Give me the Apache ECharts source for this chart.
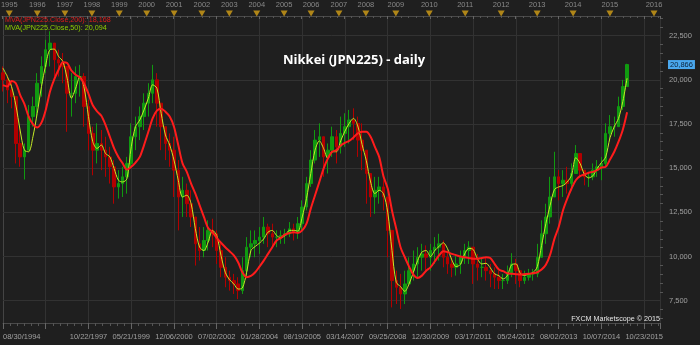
<!DOCTYPE html>
<html><head><meta charset="utf-8">
<script src="https://cdn.jsdelivr.net/npm/echarts@6/dist/echarts.min.js"></script>
<style>html,body{margin:0;padding:0;background:#1f1f1f;}#c{width:700px;height:345px;}</style>
</head><body><div id="c"></div>
<script>
// bottom axis date labels (one per grid line, every 10 slots)
const dateLabels = ['08/30/1994', '', '10/22/1997', '05/21/1999', '12/06/2000', '07/02/2002', '01/28/2004',
  '08/19/2005', '03/14/2007', '09/25/2008', '12/30/2009', '03/17/2011', '05/24/2012', '08/02/2013',
  '10/07/2014', '10/23/2015'];
// top ruler year markers (slot position of each year start)
const yearLabels = ['1995','1996','1997','1998','1999','2000','2001','2002','2003','2004','2005',
  '2006','2007','2008','2009','2010','2011','2012','2013','2014','2015','2016'];
const yearSlots = [1.7, 8.25, 14.7, 21.0, 27.4, 33.8, 40.2, 46.7, 53.1, 59.5, 65.9,
  72.2, 78.7, 85.0, 92.0, 99.8, 108.2, 116.6, 125.0, 133.4, 142.0, 152.3];
const yTickValues = [7500, 10000, 12500, 15000, 17500, 20000, 22500];
const yMinorValues = [6500, 7000, 8000, 8500, 9000, 9500, 10500, 11000, 11500, 12000, 13000, 13500,
  14000, 14500, 15500, 16000, 16500, 17000, 18000, 18500, 19000, 19500, 20500, 21000, 21500, 22000,
  23000, 23500];

const firstOpen = 20400;
const high = [
  20760, 20290, 19910, 19050, 17350, 16400, 18580, 19050, 20380, 21330,
  22270, 22750, 22080, 21710, 21520, 20760, 20380, 20760, 20850, 20380,
  18860, 17350, 17540, 17160, 16780, 16210, 15460, 14890, 15080, 15640,
  17540, 17920, 18490, 19240, 19810, 20850, 20380, 18680, 17350, 16970,
  16780, 15460, 14510, 14130, 13750, 12240, 11670, 11670, 12050, 12140,
  11480, 10720, 9960, 9200, 9020, 8830, 9960, 11100, 11480, 11480,
  11670, 12240, 11860, 11860, 11480, 11480, 11570, 11950, 11860, 12240,
  13180, 14510, 16020, 17160, 17540, 16780, 16400, 17350, 17160, 17920,
  18110, 18300, 18390, 17920, 17540, 16020, 14700, 14510, 14510, 14320,
  13370, 11480, 9200, 9020, 9200, 9960, 10340, 10530, 10720, 10630,
  10720, 11100, 11290, 10910, 10340, 9960, 10060, 10340, 10720, 10870,
  10340, 10150, 9960, 9960, 9580, 9390, 9200, 9010, 9490, 10190,
  9870, 9200, 9200, 9300, 9300, 10720, 12050, 12990, 14510, 15930,
  14890, 14890, 15080, 15270, 16310, 15640, 14890, 14790, 15270, 15460,
  15640, 17540, 18010, 17920, 19050, 20000, 20910];
const low = [
  19340, 18680, 18390, 15270, 15080, 14360, 16020, 17350, 17920, 19050,
  20380, 20760, 20190, 20190, 19810, 17060, 17920, 18680, 19050, 17350,
  16020, 14600, 15270, 14890, 14510, 14130, 12990, 13280, 13370, 13560,
  15080, 16020, 16590, 17160, 17920, 18680, 17350, 16020, 15460, 15080,
  13370, 11480, 12240, 12240, 11670, 9490, 9770, 9960, 10340, 10530,
  9580, 8830, 8260, 8070, 7880, 7590, 7880, 8830, 9960, 9960,
  10150, 10720, 10530, 10530, 10530, 10720, 10720, 11100, 10910, 11000,
  11480, 12610, 13940, 15270, 15640, 14510, 14700, 15640, 15270, 15830,
  16210, 16400, 16590, 15640, 14890, 12990, 12240, 12420, 12990, 12610,
  9960, 7120, 7310, 7030, 7310, 8450, 8640, 8830, 9200, 9200,
  9200, 9580, 9770, 9390, 9020, 8830, 8920, 9020, 9580, 9580,
  8450, 8640, 8830, 8640, 8260, 8160, 8160, 8160, 8450, 8830,
  8450, 8260, 8450, 8640, 8640, 8830, 9960, 10720, 11860, 13370,
  13180, 13370, 13560, 13750, 15080, 14510, 14030, 13940, 14320, 14510,
  14320, 15080, 16590, 16780, 17350, 18300, 19620];
const close = [
  20000, 19430, 19050, 16400, 15640, 16020, 17920, 18490, 19810, 20760,
  21710, 22080, 21140, 20950, 20760, 19240, 19240, 20190, 20190, 18490,
  16970, 16020, 16400, 16020, 15640, 15080, 13940, 14130, 14510, 15270,
  16780, 17350, 17920, 18680, 19240, 20000, 18680, 17350, 16400, 16020,
  14890, 13370, 13750, 12990, 12240, 10720, 10340, 10910, 11480, 11290,
  10340, 9390, 8830, 8640, 8450, 8070, 9200, 10530, 10720, 10910,
  11100, 11670, 11290, 11100, 11100, 11190, 11290, 11570, 11380, 11860,
  12800, 14130, 15460, 16590, 16780, 15640, 16020, 16780, 16210, 16970,
  17350, 17730, 17540, 16590, 16020, 14700, 13370, 13750, 13940, 13370,
  11480, 8640, 8260, 7880, 8450, 9200, 9580, 9960, 10150, 9960,
  10340, 10530, 10720, 9960, 9580, 9390, 9580, 9960, 10340, 10530,
  9580, 9390, 9390, 9200, 9020, 8830, 8640, 8640, 9020, 9580,
  9200, 8640, 8830, 9020, 9020, 9960, 11290, 12240, 13370, 14510,
  14130, 14320, 14130, 14700, 15830, 14890, 14510, 14510, 14890, 15080,
  15270, 16970, 17350, 17350, 18490, 19620, 20866];
const ma50 = [
  20660, 20190, 19620, 18580, 17160, 16020, 15930, 16780, 18110, 19620,
  20850, 21710, 21740, 21330, 21040, 20100, 18960, 19530, 20190, 19530,
  17920, 16500, 16120, 16310, 15830, 15640, 14980, 14320, 14220, 14410,
  16210, 17350, 17730, 18300, 18960, 19720, 19530, 18110, 16880, 16310,
  15460, 14320, 13370, 13470, 12990, 11570, 10530, 10340, 10820, 11480,
  11190, 10060, 9110, 8690, 8450, 8160, 8220, 9110, 10340, 10570,
  10760, 11000, 11380, 11480, 11190, 11060, 11190, 11480, 11480, 11440,
  12240, 13280, 14700, 16020, 16550, 16120, 15550, 15930, 15930, 16550,
  17100, 17540, 17820, 17390, 16340, 15420, 14220, 13560, 13750, 13560,
  12520, 10340, 8540, 8300, 8030, 8450, 9110, 9770, 10250, 10340,
  10000, 10340, 10570, 10780, 10440, 9810, 9430, 9550, 10150, 10460,
  10400, 9870, 9580, 9620, 9360, 9020, 8920, 8730, 8920, 9540,
  9580, 9050, 8920, 9020, 9090, 9430, 10630, 11860, 12900, 13790,
  13940, 14020, 14220, 14600, 15600, 15270, 14660, 14450, 14570, 14980,
  15320, 15640, 16720, 17350, 17820, 18770, 20094];
const ma200 = [
  19700, 19620, 19940, 19810, 19150, 18640, 17920, 17500, 17310, 17580,
  18300, 19340, 20040, 20570, 21000, 20950, 20530, 20290, 20130, 19770,
  19210, 18560, 18220, 17970, 17440, 16780, 16120, 15640, 15270, 14920,
  15080, 15320, 15640, 16310, 17060, 17820, 18260, 18370, 18200, 17920,
  17350, 16310, 15270, 14790, 14130, 13560, 12900, 12240, 11610, 11380,
  11060, 10780, 10530, 10300, 10060, 9680, 9110, 8830, 8900, 9110,
  9430, 9770, 10150, 10530, 10910, 11060, 11250, 11330, 11380, 11330,
  11480, 11860, 12710, 13470, 14220, 14980, 15550, 15930, 16020, 16290,
  16440, 16550, 16740, 16970, 17060, 17060, 16780, 16210, 15640, 14550,
  13850, 12610, 11570, 10530, 9960, 9430, 8980, 8790, 8920, 9200,
  9390, 9720, 10060, 10300, 10250, 10150, 10080, 10000, 9960, 9920,
  9870, 9870, 9920, 9960, 9920, 9580, 9260, 9170, 9050, 9020,
  9000, 8980, 9000, 9020, 9050, 9110, 9260, 9530, 10110, 11000,
  11670, 12610, 13280, 13850, 14320, 14550, 14640, 14740, 14790, 14890,
  15040, 15080, 15490, 15930, 16500, 17180, 18168];

const fmt = v => Math.round(v).toLocaleString('en-US');
const lastPrice = close[close.length - 1];
const FONT = 'Liberation Sans';
const AX = '#a0a0a0';
const GRIDC = '#323232';
const X_MIN = 0, X_MAX = 153.7, Y_MIN = 6238, Y_MAX = 23558;

const candles = close.map((c, i) => [i, i ? close[i - 1] : firstOpen, c, low[i], high[i]]);

const chart = echarts.init(document.getElementById('c'), null, {renderer: 'canvas'});
chart.setOption({
  animation: false,
  backgroundColor: '#1f1f1f',
  textStyle: {fontFamily: FONT},
  title: [
    {text: 'Nikkei (JPN225) - daily', left: 283, top: 54, padding: 0,
     textStyle: {color: '#ffffff', fontSize: 13, fontWeight: 'bold', fontFamily: 'Open Sans'}},
    {text: 'MVA(JPN225.Close,200): ' + fmt(ma200[ma200.length - 1]), left: 5, top: 17, padding: 0,
     textStyle: {color: '#e01b1b', fontSize: 7.2, fontWeight: 'normal', fontFamily: FONT}},
    {text: 'MVA(JPN225.Close,50): ' + fmt(ma50[ma50.length - 1]), left: 5, top: 25, padding: 0,
     textStyle: {color: '#8ed100', fontSize: 7.2, fontWeight: 'normal', fontFamily: FONT}},
    {text: 'FXCM Marketscope \u00a9 2015', right: 40, top: 316, padding: 0,
     textStyle: {color: '#e6e6e6', fontSize: 7.2, fontWeight: 'normal', fontFamily: FONT}}
  ],
  grid: [
    {left: 2, right: 40, top: 17, bottom: 22},
    {left: 2, right: 40, top: 11, height: 5}
  ],
  xAxis: [
    {gridIndex: 0, type: 'value', min: X_MIN, max: X_MAX, interval: 10, position: 'bottom',
     axisLine: {show: true, lineStyle: {color: '#4a4a4a'}},
     axisTick: {show: true, length: 6, lineStyle: {color: '#666'}},
     minorTick: {show: true, splitNumber: 6, length: 3, lineStyle: {color: '#555'}},
     axisLabel: {color: AX, fontSize: 7.5, margin: 10, showMaxLabel: false, alignMinLabel: 'left',
       formatter: v => (Math.abs(v / 10 - Math.round(v / 10)) < 1e-6 ? (dateLabels[Math.round(v / 10)] || '') : '')},
     splitLine: {show: true, lineStyle: {color: GRIDC, width: 1}},
     minorSplitLine: {show: false}},
    {gridIndex: 1, type: 'value', min: X_MIN, max: X_MAX, interval: 10, position: 'top',
     axisLine: {show: true, lineStyle: {color: '#4a4a4a'}},
     axisTick: {show: true, inside: true, length: 3, lineStyle: {color: '#666'}},
     minorTick: {show: true, splitNumber: 6, length: 2, lineStyle: {color: '#555'}},
     axisLabel: {show: false}, splitLine: {show: false}}
  ],
  yAxis: [
    {gridIndex: 0, type: 'value', position: 'right', min: Y_MIN, max: Y_MAX,
     axisLine: {show: true, lineStyle: {color: '#444'}},
     axisTick: {show: true, customValues: yTickValues, length: 6, lineStyle: {color: '#666'}},
     axisLabel: {show: true, customValues: yTickValues, margin: 9, color: AX, fontSize: 7.5,
       formatter: v => fmt(v)},
     splitLine: {show: false}},
    {gridIndex: 0, type: 'value', position: 'right', min: Y_MIN, max: Y_MAX,
     axisLine: {show: false},
     axisTick: {show: true, customValues: yMinorValues, length: 3, lineStyle: {color: '#555'}},
     axisLabel: {show: false}, splitLine: {show: false}},
    {gridIndex: 1, type: 'value', min: 0, max: 1, show: false}
  ],
  series: [
    {type: 'candlestick', name: 'JPN225', xAxisIndex: 0, yAxisIndex: 0, z: 3,
     data: candles, barWidth: 3,
     itemStyle: {color: '#109a10', color0: '#b30000', borderColor: '#109a10', borderColor0: '#b30000', borderWidth: 1},
     markLine: {silent: true, z: 1, animation: false, symbol: ['none', 'none'],
       data: yTickValues.map(v => ({yAxis: v, lineStyle: {color: GRIDC, width: 1, type: 'solid'}, label: {show: false}}))}},
    {type: 'line', name: 'MVA50', xAxisIndex: 0, yAxisIndex: 0, z: 4,
     data: ma50.map((v, i) => [i, v]), symbol: 'none', smooth: 0.3,
     lineStyle: {color: '#c4ea26', width: 1}},
    {type: 'line', name: 'MVA200', xAxisIndex: 0, yAxisIndex: 0, z: 5,
     data: ma200.map((v, i) => [i, v]), symbol: 'none', smooth: 0.3,
     lineStyle: {color: '#ff1c1c', width: 2},
     markLine: {silent: true, z: 7, animation: false, symbol: ['none', 'none'],
       data: [{yAxis: lastPrice, lineStyle: {color: 'rgba(0,0,0,0)', width: 1},
         label: {show: true, position: 'end', distance: 8, formatter: fmt(lastPrice),
           backgroundColor: '#4aa8ee', color: '#0b2138', fontSize: 7.5, fontFamily: FONT, padding: [1, 2, 0, 2]}}]}},
    {type: 'scatter', name: 'years', xAxisIndex: 1, yAxisIndex: 2, z: 6,
     data: yearSlots.map((s, i) => ({value: [s, 0.5], name: yearLabels[i]})),
     symbol: 'triangle', symbolRotate: 180, symbolSize: [7, 6],
     itemStyle: {color: '#d4a017'},
     label: {show: true, position: 'top', distance: 2, formatter: '{b}', color: AX, fontSize: 7.5, fontFamily: FONT}}
  ]
});
</script>
</body></html>
